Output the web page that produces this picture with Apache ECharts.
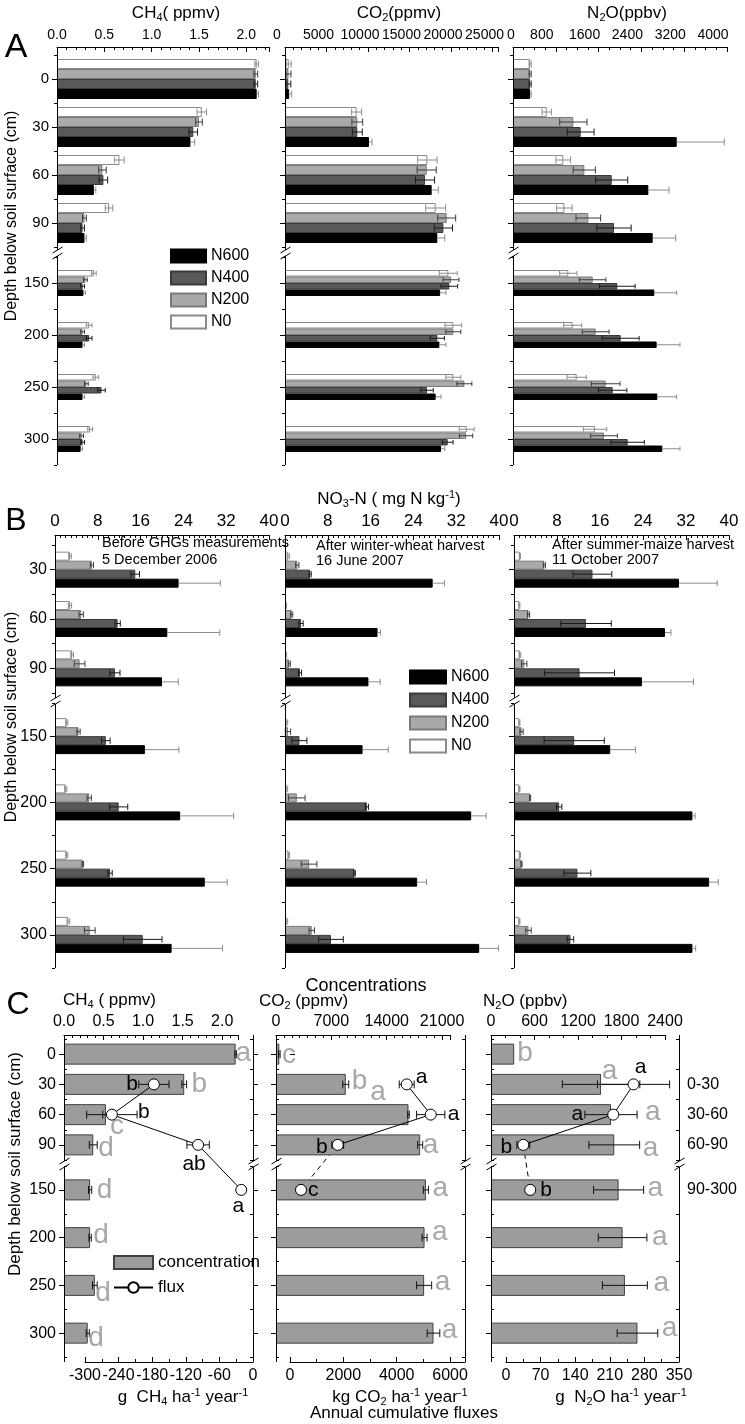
<!DOCTYPE html>
<html>
<head>
<meta charset="utf-8">
<title>Soil gas and nitrate profiles</title>
<script src="https://cdn.jsdelivr.net/npm/echarts@6/dist/echarts.min.js"></script>
<style>
html,body{margin:0;padding:0;background:#fff;}
#chart{width:745px;height:1424px;}
</style>
</head>
<body>
<div id="chart"></div>
<script>
// ================= DATA =================
const treatments = ['N0', 'N200', 'N400', 'N600'];
const legendOrder = ['N600', 'N400', 'N200', 'N0'];
const depthsA = ['0', '30', '60', '90', '150', '200', '250', '300'];
const depthsB = ['30', '60', '90', '150', '200', '250', '300'];
const fluxLayers = ['0-30', '30-60', '60-90', '90-300'];

// Panel A - CH4 (ppmv)
const aCH4_N0   = [2.11, 1.53, 0.66, 0.55, 0.39, 0.34, 0.41, 0.35];
const aCH4_N200 = [2.10, 1.50, 0.48, 0.29, 0.30, 0.27, 0.31, 0.26];
const aCH4_N400 = [2.10, 1.44, 0.49, 0.27, 0.27, 0.34, 0.47, 0.27];
const aCH4_N600 = [2.11, 1.41, 0.39, 0.29, 0.28, 0.27, 0.27, 0.25];
const aCH4_N0_se   = [0.02, 0.05, 0.05, 0.04, 0.025, 0.03, 0.03, 0.025];
const aCH4_N200_se = [0.02, 0.035, 0.04, 0.02, 0.02, 0.02, 0.02, 0.02];
const aCH4_N400_se = [0.02, 0.045, 0.045, 0.02, 0.02, 0.03, 0.04, 0.02];
const aCH4_N600_se = [0.02, 0.045, 0.02, 0.02, 0.02, 0.02, 0.02, 0.02];

// Panel A - CO2 (ppmv)
const aCO2_N0   = [450, 8630, 17150, 18150, 19680, 20280, 20280, 21890];
const aCO2_N200 = [420, 8710, 17070, 19480, 20000, 20280, 21610, 21810];
const aCO2_N400 = [400, 8710, 16870, 19080, 19800, 18350, 17110, 19600];
const aCO2_N600 = [500, 10120, 17670, 18350, 18690, 18600, 18150, 18800];
const aCO2_N0_se   = [300, 600, 1170, 1200, 1080, 1000, 900, 900];
const aCO2_N200_se = [300, 650, 1150, 1080, 960, 900, 900, 800];
const aCO2_N400_se = [300, 600, 1150, 1100, 1000, 850, 750, 650];
const aCO2_N600_se = [300, 360, 800, 900, 700, 800, 650, 450];

// Panel A - N2O (ppbv)
const aN2O_N0   = [320, 630, 940, 960, 1034, 1115, 1190, 1533];
const aN2O_N200 = [320, 1128, 1333, 1408, 1489, 1545, 1732, 1701];
const aN2O_N400 = [320, 1265, 1845, 1888, 1950, 2013, 1863, 2143];
const aN2O_N600 = [320, 3060, 2530, 2611, 2642, 2685, 2698, 2791];
const aN2O_N0_se   = [20, 87, 137, 145, 162, 170, 180, 218];
const aN2O_N200_se = [20, 255, 207, 230, 248, 250, 268, 250];
const aN2O_N400_se = [20, 250, 300, 320, 333, 345, 265, 312];
const aN2O_N600_se = [20, 890, 386, 430, 417, 436, 360, 330];

// Panel B - NO3-N (mg N kg-1), before GHGs measurements
const b1_N0   = [2.8, 2.8, 3.2, 2.2, 2.0, 2.2, 2.5];
const b1_N200 = [6.9, 4.9, 4.6, 4.4, 6.4, 5.2, 6.5];
const b1_N400 = [15.0, 11.7, 11.2, 9.5, 11.9, 10.3, 16.4];
const b1_N600 = [23.1, 21.0, 20.0, 16.8, 23.4, 28.0, 21.8];
const b1_N0_se   = [0.25, 0.3, 0.25, 0.2, 0.2, 0.2, 0.25];
const b1_N200_se = [0.3, 0.4, 1.0, 0.3, 0.4, 0.15, 1.0];
const b1_N400_se = [0.8, 0.5, 0.95, 0.8, 1.7, 0.4, 3.6];
const b1_N600_se = [7.8, 9.8, 3.05, 6.35, 10.0, 4.2, 9.5];

// Panel B - after winter-wheat harvest
const b2_N0   = [0.6, 0.2, 0.2, 0.3, 0.3, 0.7, 0.3];
const b2_N200 = [2.3, 1.25, 0.8, 0.55, 2.2, 4.5, 5.0];
const b2_N400 = [4.7, 3.0, 2.8, 2.7, 15.3, 13.0, 8.6];
const b2_N600 = [27.6, 17.3, 15.6, 14.5, 34.8, 24.7, 36.3];
const b2_N0_se   = [0.2, 0.1, 0.1, 0.2, 0.2, 0.15, 0.2];
const b2_N200_se = [0.3, 0.2, 0.2, 0.5, 1.56, 1.46, 0.5];
const b2_N400_se = [0.2, 0.4, 0.3, 1.4, 0.3, 0.15, 2.3];
const b2_N600_se = [2.2, 0.56, 2.2, 4.8, 2.8, 1.75, 3.6];

// Panel B - after summer-maize harvest
const b3_N0   = [1.1, 1.0, 1.1, 1.0, 1.0, 1.1, 1.0];
const b3_N200 = [5.65, 2.7, 1.9, 1.4, 3.0, 1.4, 2.7];
const b3_N400 = [14.6, 13.4, 12.2, 11.2, 8.4, 11.8, 10.5];
const b3_N600 = [30.7, 28.1, 23.8, 17.9, 33.2, 36.3, 33.2];
const b3_N0_se   = [0.1, 0.1, 0.15, 0.1, 0.1, 0.1, 0.1];
const b3_N200_se = [0.2, 0.2, 0.5, 0.3, 0.1, 0.1, 0.5];
const b3_N400_se = [3.6, 4.7, 6.5, 5.6, 0.5, 2.5, 0.6];
const b3_N600_se = [7.1, 1.1, 9.6, 4.7, 0.5, 1.7, 0.6];

// Panel C - mean concentrations
const cCH4_conc = [2.17, 1.52, 0.53, 0.37, 0.33, 0.33, 0.39, 0.30];
const cCH4_conc_se = [0.01, 0.03, 0.04, 0.05, 0.02, 0.015, 0.03, 0.02];
const cCO2_conc = [420, 8820, 16750, 18230, 18950, 18780, 18730, 19910];
const cCO2_conc_se = [100, 380, 100, 320, 320, 320, 950, 800];
const cN2O_conc = [320, 1518, 1655, 1700, 1760, 1815, 1847, 2020];
const cN2O_conc_se = [0, 535, 360, 350, 345, 335, 310, 280];
const cCH4_concLetters = ['a', 'b', 'c', 'd', 'd', 'd', 'd', 'd'];
const cCO2_concLetters = ['c', 'b', 'a', 'a', 'a', 'a', 'a', 'a'];
const cN2O_concLetters = ['b', 'a', 'a', 'a', 'a', 'a', 'a', 'a'];

// Panel C - annual cumulative fluxes for layers 0-30, 30-60, 60-90, 90-300
const cCH4_flux = [-177, -252, -98, -21];
const cCH4_flux_se = [27, 45, 20, 0];
const cCO2_flux = [4375, 5275, 1790, 412];
const cCO2_flux_se = [280, 530, 220, 0];
const cN2O_flux = [258, 217, 35, 49];
const cN2O_flux_se = [73, 0, 13, 5];
const cCH4_fluxLetters = ['b', 'b', 'ab', 'a'];
const cCO2_fluxLetters = ['a', 'a', 'b', 'c'];
const cN2O_fluxLetters = ['a', 'a', 'b', 'b'];

// ================= LAYOUT / STYLE =================
const FAM = '"Liberation Sans", Arial, Helvetica, sans-serif';
const LA = {axisTop: 47, up: [55, 192], lo: [257, 208], axisBottom: 465, brk: 252,
  x: [[57, 269], [285, 498], [513, 727]], barUp: 10, barLo: 6.5, tickFs: 14, catFs: 15};
const LB = {axisTop: 535, up: [545, 148], lo: [703, 265], axisBottom: 968, brk: 700,
  x: [[55, 269], [285, 499], [514, 729]], barUp: 9, barLo: 9, tickFs: 17, catFs: 16};
const LC = {axisTop: 1035, up: [1039, 121], lo: [1166, 191], axisBottom: 1362, brk: 1163,
  conc: [[64, 238], [276, 450], [491, 665]], flux: [[85, 253], [290, 465], [506, 679]]};

const BAR_STYLE = [
  {color: '#ffffff', borderColor: '#8a8a8a', borderWidth: 1},
  {color: '#a9a9a9', borderColor: '#7a7a7a', borderWidth: 1},
  {color: '#595959', borderColor: '#3a3a3a', borderWidth: 1},
  {color: '#000000', borderColor: '#000000', borderWidth: 1}
];
const ERR_COL = ['#8c8c8c', '#3c3c3c', '#1a1a1a', '#8c8c8c'];

// letter offsets (dx, dy) relative to error-bar end
const cCH4_letterOff = [[-3, -1], [3, 0], [-1, 12], [-1, 3], [3, 0], [0, -2], [-4, 8], [-3, 5]];
const cCO2_letterOff = [[0, 1], [1, -3], [-41, -22], [-2, 0], [2, -2], [3, -5], [1, -3], [0, -3]];
const cN2O_letterOff = [[1, -1], [-40, -13], [6, -2], [1, 3], [2, -2], [3, 0], [4, -2], [2, -5]];
const cCH4_fluxLab = [{position: 'left', distance: 10}, {position: 'right', distance: 20, offset: [0, -2]},
  {position: 'bottom', distance: 3, offset: [-4, 0]}, {position: 'bottom', distance: 0, offset: [-3, 0]}];
const cCO2_fluxLab = [{position: 'right', distance: 3, offset: [0, -7]}, {position: 'right', distance: 11},
  {position: 'left', distance: 4, offset: [0, 2]}, {position: 'right', distance: 1}];
const cN2O_fluxLab = [{position: 'top', distance: 1, offset: [7, 0]}, {position: 'left', distance: 24},
  {position: 'left', distance: 5, offset: [0, 2]}, {position: 'right', distance: 4}];

// ================= BUILDERS =================
const option = {animation: false, backgroundColor: '#ffffff', textStyle: {fontFamily: FAM},
  grid: [], xAxis: [], yAxis: [], series: [], legend: [], graphic: []};
const G = [];

function addGrid(x0, x1, top, h) {
  option.grid.push({left: x0, top: top, width: x1 - x0, height: h, containLabel: false, outerBoundsMode: 'none', show: false});
  return option.grid.length - 1;
}
function fmtNum(v, dec) { return dec ? v.toFixed(dec) : String(Math.round(v)); }
function addX(gi, c) {
  const iv = c.interval, mn = c.min;
  const fs = c.fs || 16;
  const sh = c.shift || 0, sh0 = (c.shift0 !== undefined) ? c.shift0 : sh;
  option.xAxis.push({
    gridIndex: gi, type: 'value', position: c.pos, offset: c.offset || 0,
    min: c.min, max: c.max, interval: iv, show: c.show !== false,
    axisLine: {show: true, onZero: false, lineStyle: {color: '#000', width: 1}},
    axisTick: {show: true, inside: true, length: 5, lineStyle: {color: '#000', width: 1}},
    minorTick: {show: true, splitNumber: c.minor, length: 3, lineStyle: {color: '#000', width: 1}},
    splitLine: {show: false}, minorSplitLine: {show: false},
    axisLabel: {show: true, color: '#000', fontSize: fs, fontFamily: FAM, margin: c.margin || 5,
      rich: {
        t: {fontSize: fs, fontFamily: FAM, color: '#000', padding: [0, 2 * sh, 0, 0]},
        z: {fontSize: fs, fontFamily: FAM, color: '#000', padding: [0, 2 * sh0, 0, 0]}
      },
      formatter: function (v) {
        const k = (v - mn) / iv;
        if (Math.abs(k - Math.round(k)) >= 1e-6) return '';
        const s = fmtNum(v, c.dec);
        if (!sh && !sh0) return s;
        return (Math.abs(v) < 1e-9 ? '{z|' : '{t|') + s + '}';
      }}
  });
  return option.xAxis.length - 1;
}
function addY(gi, data, c) {
  const pos = c.pos || 'left';
  option.yAxis.push({gridIndex: gi, type: 'category', data: data, inverse: true, position: pos,
    axisLine: {show: false}, splitLine: {show: false},
    axisTick: {show: true, alignWithLabel: true, interval: 0, inside: false, length: 5, lineStyle: {color: '#000'}},
    axisLabel: {show: c.labels !== false, interval: 0, color: '#000', fontSize: c.fs || 16, fontFamily: FAM, margin: 8, formatter: c.fmt}});
  const idx = option.yAxis.length - 1;
  option.yAxis.push({gridIndex: gi, type: 'category', data: data, inverse: true, position: pos,
    axisLine: {show: false}, splitLine: {show: false}, axisLabel: {show: false},
    axisTick: {show: true, alignWithLabel: false, interval: 0, inside: !!c.minorInside, length: 3, lineStyle: {color: '#000'}}});
  return idx;
}
function errRender(bw) {
  return function (params, api) {
    const v = api.value(0), c = api.value(1), e = api.value(2), t = api.value(3);
    if (!(e > 0)) return null;
    const pc = api.coord([v, c]), pl = api.coord([v - e, c]), pr = api.coord([v + e, c]);
    const y = pc[1] + (t - 1.5) * bw;
    const h = Math.max(2, bw * 0.35);
    const st = {stroke: ERR_COL[t], lineWidth: 1};
    const xs = t === 3 ? pc[0] : pl[0];
    const ch = [
      {type: 'line', shape: {x1: xs, y1: y, x2: pr[0], y2: y}, style: st},
      {type: 'line', shape: {x1: pr[0], y1: y - h, x2: pr[0], y2: y + h}, style: st}
    ];
    if (t !== 3) ch.push({type: 'line', shape: {x1: pl[0], y1: y - h, x2: pl[0], y2: y + h}, style: st});
    return {type: 'group', children: ch};
  };
}
function simpleErr(color, h) {
  return function (params, api) {
    const v = api.value(0), c = api.value(1), e = api.value(2);
    if (!(e > 0)) return null;
    const pl = api.coord([v - e, c]), pr = api.coord([v + e, c]);
    const y = pl[1];
    const st = {stroke: color, lineWidth: 1};
    return {type: 'group', children: [
      {type: 'line', shape: {x1: pl[0], y1: y, x2: pr[0], y2: y}, style: st},
      {type: 'line', shape: {x1: pl[0], y1: y - h, x2: pl[0], y2: y + h}, style: st},
      {type: 'line', shape: {x1: pr[0], y1: y - h, x2: pr[0], y2: y + h}, style: st}
    ]};
  };
}
function concErrRender(letters, offs, from) {
  return function (params, api) {
    const v = api.value(0), c = api.value(1), e = api.value(2);
    const pc = api.coord([v, c]), pl = api.coord([v - e, c]), pr = api.coord([v + e, c]);
    const y = pc[1];
    const st = {stroke: '#111', lineWidth: 1};
    const ch = [];
    if (e > 0) {
      ch.push({type: 'line', shape: {x1: pl[0], y1: y, x2: pr[0], y2: y}, style: st});
      ch.push({type: 'line', shape: {x1: pl[0], y1: y - 4, x2: pl[0], y2: y + 4}, style: st});
      ch.push({type: 'line', shape: {x1: pr[0], y1: y - 4, x2: pr[0], y2: y + 4}, style: st});
    }
    const k = from + params.dataIndex;
    const o = offs[k];
    ch.push({type: 'text', x: pr[0] + 2 + o[0], y: y + o[1],
      style: {text: letters[k], fill: '#a8a8a8', font: '28px ' + FAM, textAlign: 'left', align: 'left', textVerticalAlign: 'middle', verticalAlign: 'middle'}});
    return {type: 'group', children: ch};
  };
}

function barPanel(L, gi, cats, nUp, vals, errs, xc) {
  const x0 = L.x[gi][0], x1 = L.x[gi][1];
  const secs = [
    {top: L.up[0], h: L.up[1], from: 0, to: nUp, bw: L.barUp, show: true},
    {top: L.lo[0], h: L.lo[1], from: nUp, to: cats.length, bw: L.barLo, show: false}
  ];
  secs.forEach(function (s) {
    const g = addGrid(x0, x1, s.top, s.h);
    const xi = addX(g, Object.assign({pos: 'top', offset: s.top - L.axisTop, show: s.show, fs: L.tickFs}, xc));
    const yi = addY(g, cats.slice(s.from, s.to), {fs: L.catFs, labels: gi === 0});
    treatments.forEach(function (t, ti) {
      option.series.push({type: 'bar', name: t, xAxisIndex: xi, yAxisIndex: yi, data: vals[ti].slice(s.from, s.to),
        barWidth: s.bw, barGap: '0%', itemStyle: BAR_STYLE[ti], silent: true, z: 2});
    });
    const ed = [];
    treatments.forEach(function (t, ti) {
      for (let k = s.from; k < s.to; k++) ed.push([vals[ti][k], k - s.from, errs[ti][k], ti]);
    });
    option.series.push({type: 'custom', xAxisIndex: xi, yAxisIndex: yi, data: ed, encode: {x: 0, y: 1},
      renderItem: errRender(s.bw), silent: true, z: 3, clip: false});
  });
}

const connectors = [];
function cPanel(gi, conc, concSe, letters, letterOff, flux, fluxSe, fluxLetters, fluxLab, concAx, fluxAx, rightLabels, dashed) {
  const cx = LC.conc[gi], fx = LC.flux[gi];
  const secs = [
    {top: LC.up[0], h: LC.up[1], from: 0, to: 4, upper: true},
    {top: LC.lo[0], h: LC.lo[1], from: 4, to: 8, upper: false}
  ];
  let lineIdx = -1, scatIdx = -1;
  secs.forEach(function (s) {
    const cats = depthsA.slice(s.from, s.to);
    // concentration layer
    const g1 = addGrid(cx[0], cx[1], s.top, s.h);
    const xi1 = addX(g1, Object.assign({pos: 'top', offset: s.top - LC.axisTop, show: s.upper, fs: 16}, concAx));
    const yi1 = addY(g1, cats, {fs: 16, minorInside: true, labels: gi === 0});
    option.series.push({type: 'bar', name: 'concentration', xAxisIndex: xi1, yAxisIndex: yi1, data: conc.slice(s.from, s.to),
      barWidth: 21, itemStyle: {color: '#9c9c9c', borderColor: '#404040', borderWidth: 1}, silent: true, z: 2});
    const cd = [];
    for (let k = s.from; k < s.to; k++) cd.push([conc[k], k - s.from, concSe[k]]);
    option.series.push({type: 'custom', xAxisIndex: xi1, yAxisIndex: yi1, data: cd, encode: {x: 0, y: 1},
      renderItem: concErrRender(letters, letterOff, s.from), silent: true, z: 3, clip: false});
    // flux layer
    const g2 = addGrid(fx[0], fx[1], s.top, s.h);
    const xi2 = addX(g2, Object.assign({pos: 'bottom', offset: LC.axisBottom - (s.top + s.h), show: !s.upper, fs: 16, margin: 6}, fluxAx));
    const fmt = rightLabels ? function (v, i) {
      if (s.upper) return i >= 1 ? fluxLayers[i - 1] : '';
      return i === 0 ? fluxLayers[3] : '';
    } : undefined;
    const yi2 = addY(g2, cats, {pos: 'right', labels: !!rightLabels, fmt: fmt, fs: 16, minorInside: true});
    const pts = [], ed = [];
    const ks = s.upper ? [0, 1, 2] : [3];
    ks.forEach(function (k) {
      const cat = s.upper ? k + 1 : 0;
      const lb = Object.assign({show: true, formatter: fluxLetters[k], color: '#000', fontSize: 21, fontFamily: FAM}, fluxLab[k]);
      pts.push({value: [flux[k], cat], label: lb});
      ed.push([flux[k], cat, fluxSe[k]]);
    });
    option.series.push({type: 'custom', xAxisIndex: xi2, yAxisIndex: yi2, data: ed, encode: {x: 0, y: 1},
      renderItem: simpleErr('#111', 4), silent: true, z: 4, clip: false});
    option.series.push({type: s.upper ? 'line' : 'scatter', name: 'flux', xAxisIndex: xi2, yAxisIndex: yi2, data: pts,
      symbol: 'circle', symbolSize: 11, lineStyle: {color: '#000', width: 1},
      itemStyle: {color: '#ffffff', borderColor: '#000', borderWidth: 1, opacity: 1}, silent: true, z: 10, clip: false});
    if (s.upper) lineIdx = option.series.length - 1; else scatIdx = option.series.length - 1;
  });
  connectors.push({s1: lineIdx, v1: [flux[2], 3], s2: scatIdx, v2: [flux[3], 0], dashed: dashed});
}

// ---------- panel A ----------
barPanel(LA, 0, depthsA, 4, [aCH4_N0, aCH4_N200, aCH4_N400, aCH4_N600], [aCH4_N0_se, aCH4_N200_se, aCH4_N400_se, aCH4_N600_se],
  {min: 0, max: 2.24, interval: 0.5, minor: 5, dec: 1});
barPanel(LA, 1, depthsA, 4, [aCO2_N0, aCO2_N200, aCO2_N400, aCO2_N600], [aCO2_N0_se, aCO2_N200_se, aCO2_N400_se, aCO2_N600_se],
  {min: 0, max: 25660, interval: 5000, minor: 5, shift: 8, shift0: 8});
barPanel(LA, 2, depthsA, 4, [aN2O_N0, aN2O_N200, aN2O_N400, aN2O_N600], [aN2O_N0_se, aN2O_N200_se, aN2O_N400_se, aN2O_N600_se],
  {min: 0, max: 4000, interval: 800, minor: 4, shift: 14, shift0: 2});
// ---------- panel B ----------
const bAx = {min: 0, max: 40, interval: 8, minor: 8};
barPanel(LB, 0, depthsB, 3, [b1_N0, b1_N200, b1_N400, b1_N600], [b1_N0_se, b1_N200_se, b1_N400_se, b1_N600_se], bAx);
barPanel(LB, 1, depthsB, 3, [b2_N0, b2_N200, b2_N400, b2_N600], [b2_N0_se, b2_N200_se, b2_N400_se, b2_N600_se], bAx);
barPanel(LB, 2, depthsB, 3, [b3_N0, b3_N200, b3_N400, b3_N600], [b3_N0_se, b3_N200_se, b3_N400_se, b3_N600_se], bAx);
// ---------- panel C ----------
cPanel(0, cCH4_conc, cCH4_conc_se, cCH4_concLetters, cCH4_letterOff, cCH4_flux, cCH4_flux_se, cCH4_fluxLetters, cCH4_fluxLab,
  {min: 0, max: 2.2, interval: 0.5, minor: 5, dec: 1}, {min: -300, max: 0, interval: 60, minor: 2}, false, false);
cPanel(1, cCO2_conc, cCO2_conc_se, cCO2_concLetters, cCO2_letterOff, cCO2_flux, cCO2_flux_se, cCO2_fluxLetters, cCO2_fluxLab,
  {min: 0, max: 22000, interval: 7000, minor: 7}, {min: 0, max: 6560, interval: 2000, minor: 2}, false, true);
cPanel(2, cN2O_conc, cN2O_conc_se, cN2O_concLetters, cN2O_letterOff, cN2O_flux, cN2O_flux_se, cN2O_fluxLetters, cN2O_fluxLab,
  {min: 0, max: 2400, interval: 600, minor: 3}, {min: 0, max: 350, interval: 70, minor: 2}, true, true);

// ---------- legends ----------
const legTxt = {fontSize: 16, color: '#000', fontFamily: FAM, lineHeight: 14};
option.legend.push({data: legendOrder, orient: 'vertical', left: 165, top: 243, itemWidth: 35, itemHeight: 13, itemGap: 6,
  icon: 'rect', textStyle: legTxt, selectedMode: false});
option.legend.push({data: legendOrder, orient: 'vertical', left: 404, top: 664, itemWidth: 36, itemHeight: 13, itemGap: 7,
  icon: 'rect', textStyle: legTxt, selectedMode: false});
option.legend.push({data: [{name: 'concentration', icon: 'rect'}, {name: 'flux'}], orient: 'vertical', left: 108, top: 1249,
  itemWidth: 39, itemHeight: 13, itemGap: 8, textStyle: {fontSize: 17, color: '#000', fontFamily: FAM, lineHeight: 14}, selectedMode: false});

// ---------- graphics: axis lines, breaks, titles ----------
function rich(fs) {
  const sf = Math.round(fs * 0.62);
  return {
    n: {fontSize: fs, fontFamily: FAM, fill: '#000', color: '#000'},
    s: {fontSize: sf, fontFamily: FAM, fill: '#000', color: '#000', padding: [Math.round(fs * 0.5), 0, 0, 0]},
    p: {fontSize: sf, fontFamily: FAM, fill: '#000', color: '#000', padding: [0, 0, Math.round(fs * 0.5), 0]}
  };
}
function gText(text, x, y, fs, align, rot) {
  G.push({type: 'text', x: x, y: y, rotation: rot || 0, silent: true, z: 20,
    style: {text: text, fontSize: fs, fontFamily: FAM, fill: '#000', textAlign: align, align: align,
      textVerticalAlign: 'middle', verticalAlign: 'middle', rich: rich(fs)}});
}
function gLine(x1, y1, x2, y2) {
  G.push({type: 'line', silent: true, z: 20, shape: {x1: x1, y1: y1, x2: x2, y2: y2}, style: {stroke: '#000', lineWidth: 1}});
}
function axisWithBreak(x, top, bottom, brk) {
  const xx = x + 0.5;
  gLine(xx, top, xx, brk - 2);
  gLine(xx, brk + 4, xx, bottom);
  gLine(xx - 5, brk + 1, xx + 5, brk - 5);
  gLine(xx - 5, brk + 7, xx + 5, brk + 1);
}
LA.x.forEach(function (p) { axisWithBreak(p[0], LA.axisTop, LA.axisBottom, LA.brk); });
LB.x.forEach(function (p) { axisWithBreak(p[0], LB.axisTop, LB.axisBottom, LB.brk); });
LC.conc.forEach(function (p) { axisWithBreak(p[0], LC.axisTop, LC.axisBottom, LC.brk); });
LC.flux.forEach(function (p) { axisWithBreak(p[1], LC.axisTop, LC.axisBottom, LC.brk); });

gText('A', 16, 48, 34, 'center');
gText('B', 16, 521, 32, 'center');
gText('C', 18, 1005, 32, 'center');
gText('Depth below soil surface (cm)', 12, 216, 16, 'center', Math.PI / 2);
gText('Depth below soil surface (cm)', 12, 717, 16, 'center', Math.PI / 2);
gText('Depth below soil surface (cm)', 15, 1164, 17, 'center', Math.PI / 2);
gText('{n|CH}{s|4}{n|( ppmv)}', 176, 13, 17, 'center');
gText('{n|CO}{s|2}{n|(ppmv)}', 399, 13, 17, 'center');
gText('{n|N}{s|2}{n|O(ppbv)}', 627, 13, 17, 'center');
gText('{n|NO}{s|3}{n|-N ( mg N kg}{p|-1}{n|)}', 389, 499, 17, 'center');
gText('Before GHGs measurements', 102, 543, 14.5, 'left');
gText('5 December 2006', 102, 560, 14.5, 'left');
gText('After winter-wheat harvest', 316, 546, 14.5, 'left');
gText('16 June 2007', 316, 561, 14.5, 'left');
gText('After summer-maize harvest', 552, 545, 14.5, 'left');
gText('11 October 2007', 552, 560, 14.5, 'left');
gText('Concentrations', 366, 986, 18, 'center');
gText('{n|CH}{s|4}{n| ( ppmv)}', 63, 1000, 17, 'left');
gText('{n|CO}{s|2}{n| (ppmv)}', 259, 1001, 17, 'left');
gText('{n|N}{s|2}{n|O (ppbv)}', 483, 1001, 17, 'left');
gText('{n|g  CH}{s|4}{n| ha}{p|-1}{n| year}{p|-1}', 183, 1397, 17, 'center');
gText('{n|kg CO}{s|2}{n| ha}{p|-1}{n| year}{p|-1}', 400, 1397, 17, 'center');
gText('{n|g  N}{s|2}{n|O ha}{p|-1}{n| year}{p|-1}', 621, 1397, 17, 'center');
gText('Annual cumulative fluxes', 404, 1413, 17, 'center');

option.graphic = G.slice();

const chart = echarts.init(document.getElementById('chart'), null, {renderer: 'canvas', width: 745, height: 1424});
chart.setOption(option);
const conn = [];
connectors.forEach(function (cn) {
  const p1 = chart.convertToPixel({seriesIndex: cn.s1}, cn.v1);
  const p2 = chart.convertToPixel({seriesIndex: cn.s2}, cn.v2);
  if (p1 && p2) {
    conn.push({type: 'line', silent: true, z: 0, shape: {x1: p1[0], y1: p1[1], x2: p2[0], y2: p2[1]},
      style: {stroke: '#000', lineWidth: 1, lineDash: cn.dashed ? [5, 4] : null}});
  }
});
chart.setOption({graphic: G.concat(conn)});
</script>
</body>
</html>
